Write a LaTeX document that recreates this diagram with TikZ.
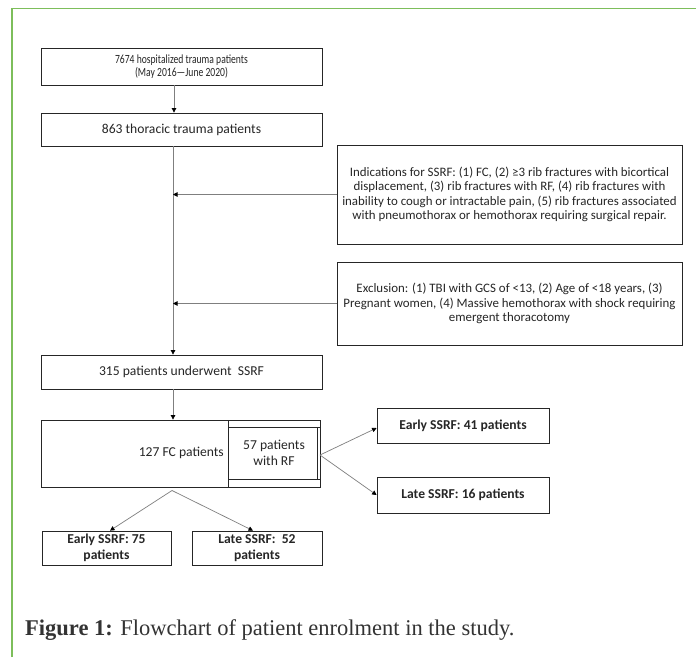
\documentclass[tikz,border=0pt]{standalone}
\usepackage{fontspec}
\setmainfont{Carlito}
\newfontfamily\capfont{Liberation Serif}
\newfontfamily\narrowfont[FakeStretch=0.77]{Carlito}
\usetikzlibrary{arrows.meta}
\definecolor{framegreen}{HTML}{7DBE5B}
\definecolor{linegray}{HTML}{7F7F7F}
\definecolor{capgray}{HTML}{333333}
\tikzset{
  box/.style={draw=black!85, line width=0.8pt, rectangle, inner sep=0pt, align=center, text=black!85},
  conn/.style={draw=linegray, line width=0.7pt},
  arr/.style={conn, -{Triangle[length=4.5pt,width=4.5pt,fill=black,color=black]}},
}
\begin{document}
\begin{tikzpicture}[x=1pt,y=-1pt]
\useasboundingbox (0,0) rectangle (696,657);
\fill[white] (0,0) rectangle (696,657);
% frame
\draw[framegreen, line width=1.8pt] (12,657) -- (12,8.5) -- (696,8.5);
\coordinate (spine) at (173,0);
% boxes
\node[box, minimum width=281pt, minimum height=37pt, font=\narrowfont\fontsize{12.5}{13.5}\selectfont] (b1) at (181.5,66.5) {7674 hospitalized trauma patients\\(May 2016—June 2020)};
\node[box, minimum width=281pt, minimum height=33pt, font=\fontsize{13.6}{15}\selectfont] (b2) at (181.5,129.5) {863 thoracic trauma patients};
\node[box, minimum width=345pt, minimum height=99pt, font=\fontsize{12.9}{14.5}\selectfont] (ind) at (509.5,194.5) {Indications for SSRF: (1) FC, (2) ≥3 rib fractures with bicortical\\displacement, (3) rib fractures with RF, (4) rib fractures with\\inability to cough or intractable pain, (5) rib fractures associated\\with pneumothorax or hemothorax requiring surgical repair.};
\node[box, minimum width=345pt, minimum height=83pt, font=\fontsize{12.9}{14.2}\selectfont] (exc) at (509.5,303.5) {Exclusion: (1) TBI with GCS of <13, (2) Age of <18 years, (3)\\Pregnant women, (4) Massive hemothorax with shock requiring\\emergent thoracotomy};
\node[box, minimum width=281pt, minimum height=34pt, font=\fontsize{13.6}{15}\selectfont] (b3) at (181.5,372) {315 patients underwent\ \ SSRF};
\node[box, minimum width=279pt, minimum height=67pt] (big) at (180.5,453.5) {};
\draw[black!85, line width=0.8pt] (228,420) -- (228,487);
\node[box, minimum width=92pt, minimum height=52pt, font=\fontsize{13.6}{16}\selectfont] (rf) at (274,453) {57 patients\\with RF};
\draw[black!85, line width=0.8pt] (317.5,427) -- (317.5,479);
\node[anchor=east, inner sep=0pt, text=black!85, font=\fontsize{13.6}{15}\selectfont] (fc) at (224,453) {127 FC patients};
\node[box, minimum width=172pt, minimum height=35pt, font=\bfseries\fontsize{13.6}{15}\selectfont] (e41) at (463,425.5) {Early SSRF: 41 patients};
\node[box, minimum width=172pt, minimum height=36pt, font=\bfseries\fontsize{13.6}{15}\selectfont] (l16) at (463,495) {Late SSRF: 16 patients};
\node[box, minimum width=129pt, minimum height=34pt, font=\bfseries\fontsize{13.6}{15.5}\selectfont] (e75) at (106.5,548) {Early SSRF: 75\\patients};
\node[box, minimum width=130pt, minimum height=34pt, font=\bfseries\fontsize{13.6}{15.5}\selectfont] (l52) at (257,548) {Late SSRF:\ \ 52\\patients};
% connectors
\draw[arr] (b1.south -| 174,0) -- (b2.north -| 174,0);
\draw[arr] (b2.south -| spine) -- (b3.north -| spine);
\draw[arr] (ind.west) -- (ind.west -| spine);
\draw[arr] (exc.west) -- (exc.west -| spine);
\draw[arr] (b3.south -| spine) -- (big.north -| spine);
\coordinate (split) at (320,455);
\draw[arr] (split) -- ([yshift=-2.5pt]e41.west);
\draw[arr] (split) -- (l16.west);
\coordinate (apex) at (172,490.5);
\draw[arr] (apex) -- ([xshift=3.5pt]e75.north);
\draw[arr] (apex) -- ([xshift=-4pt]l52.north);
% caption
\node[anchor=base west, inner sep=0pt, text=capgray, font=\capfont\fontsize{22.5}{25}\selectfont] (cap) at (25,635) {\textbf{Figure 1:} Flowchart of patient enrolment in the study.};
\end{tikzpicture}
\end{document}
